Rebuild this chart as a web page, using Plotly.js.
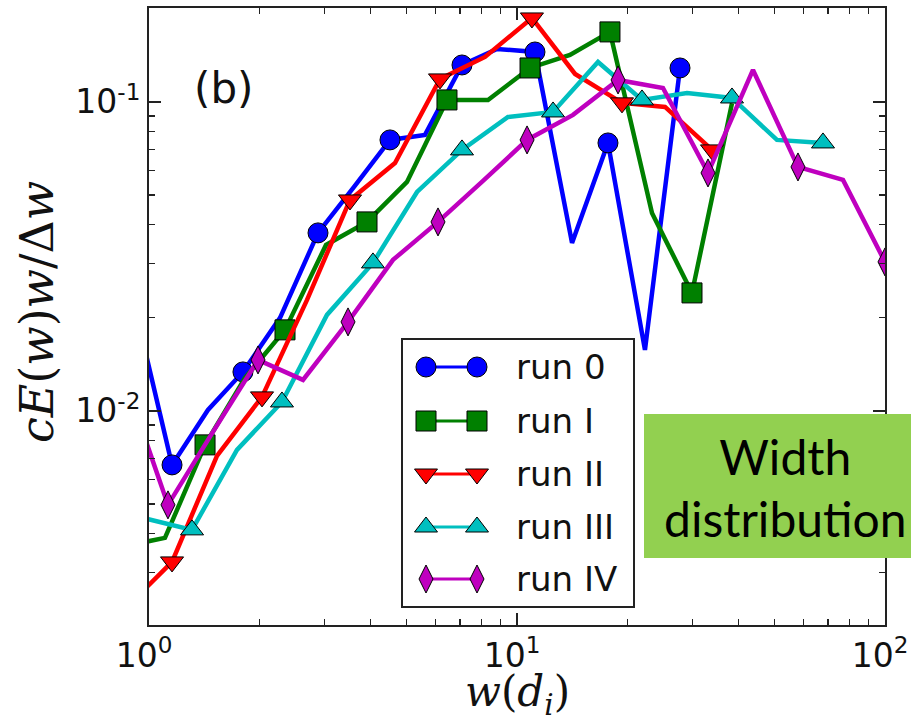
<!DOCTYPE html>
<html>
<head>
<meta charset="utf-8">
<script src="https://cdn.plot.ly/plotly-3.0.1.min.js"></script>
<style>html,body{margin:0;padding:0;background:#fff}#chart{width:911px;height:722px}</style>
</head>
<body>
<div id="chart"></div>
<script>
// ---- data ----
const runNames = ["run 0", "run I", "run II", "run III", "run IV"];

const run0_w = [0.922, 1.155, 1.446, 1.800, 2.270, 2.879, 3.607, 4.517, 5.623, 7.088, 8.826, 11.19, 14.11, 17.67, 22.27, 27.73];
const run0_E = [0.02091, 0.006686, 0.01007, 0.01337, 0.0200, 0.03768, 0.05307, 0.07534, 0.0782, 0.1317, 0.1484, 0.1451, 0.03497, 0.07367, 0.01575, 0.1288];

const runI_w = [0.8606, 1.105, 1.420, 1.824, 2.342, 3.027, 3.912, 5.024, 6.452, 8.341, 10.85, 13.93, 17.89, 23.27, 29.89, 38.39];
const runI_E = [0.003656, 0.003881, 0.007762, 0.01279, 0.01829, 0.03445, 0.04089, 0.05509, 0.1015, 0.1015, 0.1288, 0.1419, 0.1685, 0.04373, 0.02409, 0.099];

const runII_w = [0.8713, 1.155, 1.530, 2.028, 2.688, 3.517, 4.661, 6.177, 8.185, 10.98, 14.38, 19.29, 25.25, 33.88];
const runII_E = [0.002321, 0.003245, 0.007152, 0.0111, 0.02287, 0.04817, 0.06346, 0.1187, 0.1398, 0.187, 0.1232, 0.0993, 0.09634, 0.06994];

const runIII_w = [0.9875, 1.309, 1.734, 2.298, 3.045, 4.061, 5.350, 7.088, 9.452, 12.53, 16.60, 21.86, 28.97, 38.39, 50.86, 67.84];
const runIII_E = [0.004472, 0.00412, 0.007479, 0.01069, 0.02045, 0.03013, 0.05112, 0.06994, 0.08944, 0.09281, 0.1347, 0.1015, 0.1069, 0.1030, 0.07534, 0.07367];

const runIV_w = [0.8500, 1.126, 1.492, 1.978, 2.621, 3.474, 4.603, 6.100, 8.084, 10.65, 14.20, 18.82, 24.93, 33.04, 43.78, 58.01, 76.89, 100.0];
const runIV_E = [0.01308, 0.004964, 0.008551, 0.01462, 0.0126, 0.01941, 0.03081, 0.04089, 0.0555, 0.07534, 0.09078, 0.1178, 0.1110, 0.05891, 0.1269, 0.0616, 0.05592, 0.03035];

const xTickVals = [1, 10, 100];
const xTickText = ["10<sup>0</sup>", "10<sup>1</sup>", "10<sup>2</sup>"];
const yTickVals = [0.01, 0.1];
const yTickText = ["10<sup>-2</sup>", "10<sup>-1</sup>"];

const xTitle = "<i>w</i>(<i>d<sub>i</sub></i>)";
const yTitle = "<i>cE</i>(<i>w</i>)<i>w</i>/\u0394<i>w</i>";

// ---- styles ----
const colors = ["#0000ff", "#008000", "#ff0000", "#00bfbf", "#bf00bf"];
const symbols = ["circle", "square", "triangle-down", "triangle-up", "diamond-tall"];
const sizes = [20, 20, 20, 20, 20];
const markParity = [1, 0, 1, 1, 1]; // markers drawn on every other point
const xs = [run0_w, runI_w, runII_w, runIII_w, runIV_w];
const ys = [run0_E, runI_E, runII_E, runIII_E, runIV_E];

const traces = xs.map((x, k) => ({
  type: "scatter",
  mode: "lines+markers",
  name: runNames[k],
  x: x,
  y: ys[k],
  line: {color: colors[k], width: 4.5},
  marker: {
    symbol: symbols[k], size: sizes[k], color: colors[k],
    opacity: x.map((_, i) => (i % 2 === markParity[k] ? 1 : 0)),
    line: {color: "#000", width: 1}
  },
  cliponaxis: true,
  showlegend: false
}));

// minor ticks 2..9 per decade
function minorVals(d0, d1) {
  const v = [];
  for (let d = d0; d < d1; d++) for (let m = 2; m <= 9; m++) v.push(m * Math.pow(10, d));
  return v;
}

// plot area in pixels (for placing decorations)
const L = 149, R = 885, T = 8, B = 625;
const px = x => (x - L) / (R - L);
const py = y => (B - y) / (B - T);

const shapes = [];
const annotations = [];

// legend box
shapes.push({type: "rect", xref: "paper", yref: "paper", x0: px(402), x1: px(634), y0: py(607), y1: py(339),
  line: {color: "#222", width: 2}, fillcolor: "#fff", layer: "above"});
const rowY = [367, 421, 474, 527, 579];
const mX = [426, 477];
function markerShape(sym, cx, cy, color) {
  const s = {xref: "paper", yref: "paper", fillcolor: color, line: {color: "#000", width: 1}, layer: "above"};
  if (sym === "circle") return Object.assign(s, {type: "circle", x0: px(cx - 10), x1: px(cx + 10), y0: py(cy + 10), y1: py(cy - 10)});
  if (sym === "square") return Object.assign(s, {type: "rect", x0: px(cx - 10), x1: px(cx + 10), y0: py(cy + 10), y1: py(cy - 10)});
  let pts;
  if (sym === "triangle-down") pts = [[cx - 11.5, cy - 5], [cx + 11.5, cy - 5], [cx, cy + 10]];
  else if (sym === "triangle-up") pts = [[cx - 11.5, cy + 5], [cx + 11.5, cy + 5], [cx, cy - 10]];
  else pts = [[cx, cy - 14], [cx + 7, cy], [cx, cy + 14], [cx - 7, cy]];
  const path = "M" + pts.map(p => px(p[0]) + "," + py(p[1])).join("L") + "Z";
  return Object.assign(s, {type: "path", path: path});
}
runNames.forEach((n, k) => {
  const cy = rowY[k];
  shapes.push({type: "line", xref: "paper", yref: "paper", x0: px(mX[0]), x1: px(mX[1]), y0: py(cy), y1: py(cy),
    line: {color: colors[k], width: 3}, layer: "above"});
  mX.forEach(cx => shapes.push(markerShape(symbols[k], cx, cy, colors[k])));
  annotations.push({xref: "paper", yref: "paper", x: px(514), y: py(cy), xanchor: "left", yanchor: "middle",
    text: n, showarrow: false, font: {family: "DejaVu Sans", size: 34, color: "#111"}});
});

// panel label
annotations.push({xref: "paper", yref: "paper", x: px(223), y: py(88), xanchor: "center", yanchor: "middle",
  text: "(b)", showarrow: false, font: {family: "DejaVu Sans", size: 42, color: "#111"}});

// axis titles
annotations.push({xref: "paper", yref: "paper", x: px(517), y: py(694), xanchor: "center", yanchor: "middle",
  text: xTitle, showarrow: false, font: {family: "DejaVu Serif", size: 42, color: "#111"}});
annotations.push({xref: "paper", yref: "paper", x: px(37), y: py(312), xanchor: "center", yanchor: "middle",
  textangle: -90, text: yTitle, showarrow: false, font: {family: "DejaVu Serif", size: 46, color: "#111"}});

// green caption box
shapes.push({type: "rect", xref: "paper", yref: "paper", x0: px(644), x1: px(930), y0: py(558), y1: py(414),
  line: {width: 0}, fillcolor: "#92d050", layer: "above"});
annotations.push({xref: "paper", yref: "paper", x: px(785), y: py(487), xanchor: "center", yanchor: "middle",
  text: "Width<br>distribution", showarrow: false, font: {family: "Lato", size: 48, color: "#000"}});

const axisCommon = {
  type: "log",
  ticks: "inside", ticklen: 12, tickwidth: 1.5, tickcolor: "#222",
  showline: true, linewidth: 2, linecolor: "#222", mirror: "allticks",
  showgrid: false, zeroline: false, ticklabeloverflow: "allow",
  tickfont: {family: "DejaVu Sans", size: 33, color: "#111"}
};

const layout = {
  width: 911, height: 722,
  margin: {l: L, r: 911 - R, t: T, b: 722 - B, pad: 0},
  paper_bgcolor: "#fff", plot_bgcolor: "#fff",
  showlegend: false,
  xaxis: Object.assign({}, axisCommon, {
    range: [0, 2], tickmode: "array", tickvals: xTickVals, ticktext: xTickText, ticklabelshift: -5,
    minor: {tickmode: "array", tickvals: minorVals(0, 2), ticks: "inside", ticklen: 6, tickwidth: 1.2, tickcolor: "#222", showgrid: false}
  }),
  yaxis: Object.assign({}, axisCommon, {
    range: [-2.693, -0.696], tickmode: "array", tickvals: yTickVals, ticktext: yTickText,
    minor: {tickmode: "array", tickvals: minorVals(-3, 0), ticks: "inside", ticklen: 6, tickwidth: 1.2, tickcolor: "#222", showgrid: false}
  }),
  shapes: shapes,
  annotations: annotations
};

Plotly.newPlot("chart", traces, layout, {staticPlot: true, displayModeBar: false});
</script>
</body>
</html>
